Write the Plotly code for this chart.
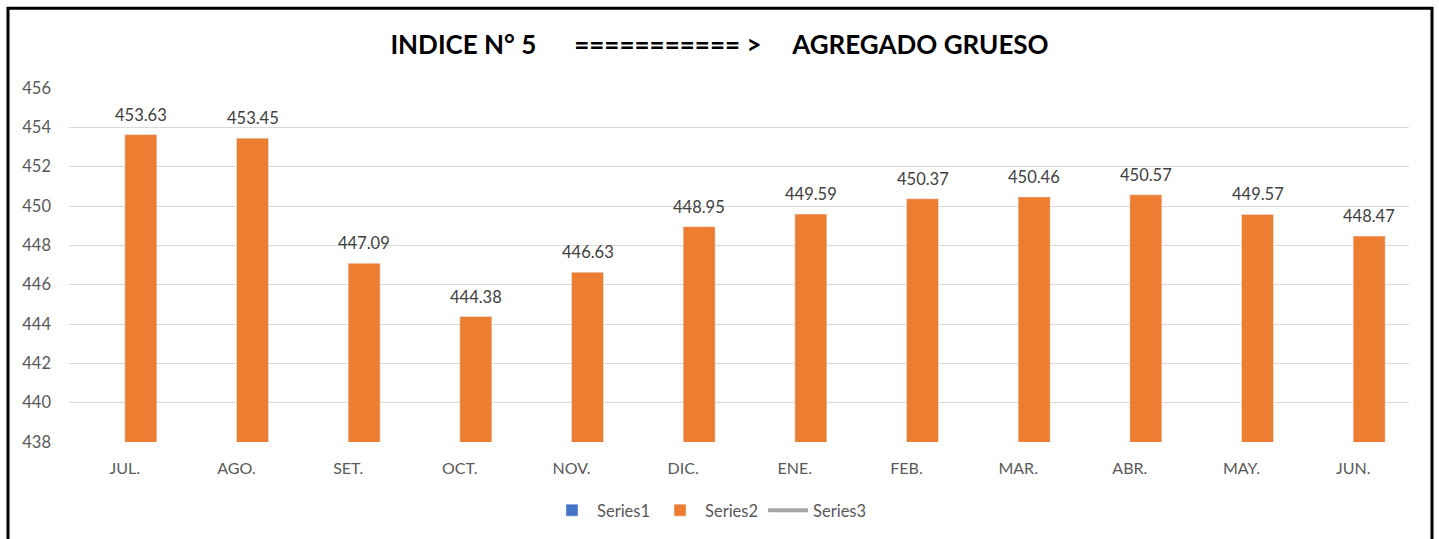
import plotly.graph_objects as go

meses = ['JUL.', 'AGO.', 'SET.', 'OCT.', 'NOV.', 'DIC.', 'ENE.', 'FEB.', 'MAR.', 'ABR.', 'MAY.', 'JUN.']
series1 = [0] * 12
series2 = [453.63, 453.45, 447.09, 444.38, 446.63, 448.95, 449.59, 450.37, 450.46, 450.57, 449.57, 448.47]
series3 = [0] * 12
y_ticks = [438, 440, 442, 444, 446, 448, 450, 452, 454, 456]

fnt = 'Lato'
gris = '#595959'

fig = go.Figure()
fig.add_trace(go.Bar(name='Series1', x=meses, y=series1, marker_color='#4472c4'))
fig.add_trace(go.Bar(name='Series2', x=meses, y=series2, marker_color='#ed7d31'))
fig.add_trace(go.Scatter(name='Series3', x=meses, y=series3, mode='lines',
                         line=dict(color='#a5a5a5', width=4)))

# etiquetas de datos sobre las barras naranjas
for m, v in zip(meses, series2):
    fig.add_annotation(x=m, y=v, text=f'{v:.2f}', showarrow=False,
                       xshift=16, yshift=8, yanchor='bottom',
                       font=dict(family=fnt, size=16.5, color='#404040'))

fig.update_layout(
    width=1439, height=539,
    margin=dict(l=69, r=30, t=88, b=96),
    paper_bgcolor='white', plot_bgcolor='white',
    barmode='group', bargap=0.427, bargroupgap=0,
    title=dict(text='INDICE N° 5\u00a0\u00a0\u00a0\u00a0\u00a0\u00a0===========\u00a0>\u00a0\u00a0\u00a0\u00a0\u00a0AGREGADO GRUESO',
               x=0.5, xanchor='center', y=0.917, yanchor='middle',
               font=dict(family=fnt, size=26, color='black', weight='bold')),
    xaxis=dict(showgrid=False, showline=False, ticks='', ticklabelstandoff=15,
               tickfont=dict(family=fnt, size=16, color=gris)),
    yaxis=dict(range=[438, 456], tickvals=y_ticks, showgrid=True, gridcolor='#d9d9d9', gridwidth=1.3,
               zeroline=False, showline=False, ticks='', ticklabelstandoff=17,
               tickfont=dict(family=fnt, size=16.5, color=gris)),
    legend=dict(orientation='h', x=0.478, xanchor='center', y=-0.19, yanchor='middle',
                font=dict(family=fnt, size=16.5, color=gris), itemwidth=40),
    showlegend=True,
)

# marco negro del grafico
fig.add_shape(type='rect', xref='paper', yref='paper',
              x0=(8 - 69) / 1340, x1=(1432 - 69) / 1340,
              y0=(443 - 560) / 355, y1=(443 - 8) / 355,
              line=dict(color='black', width=3), layer='above')

fig.write_html('out.html', config={'displayModeBar': False},
               post_script="document.body.style.margin='0';")
